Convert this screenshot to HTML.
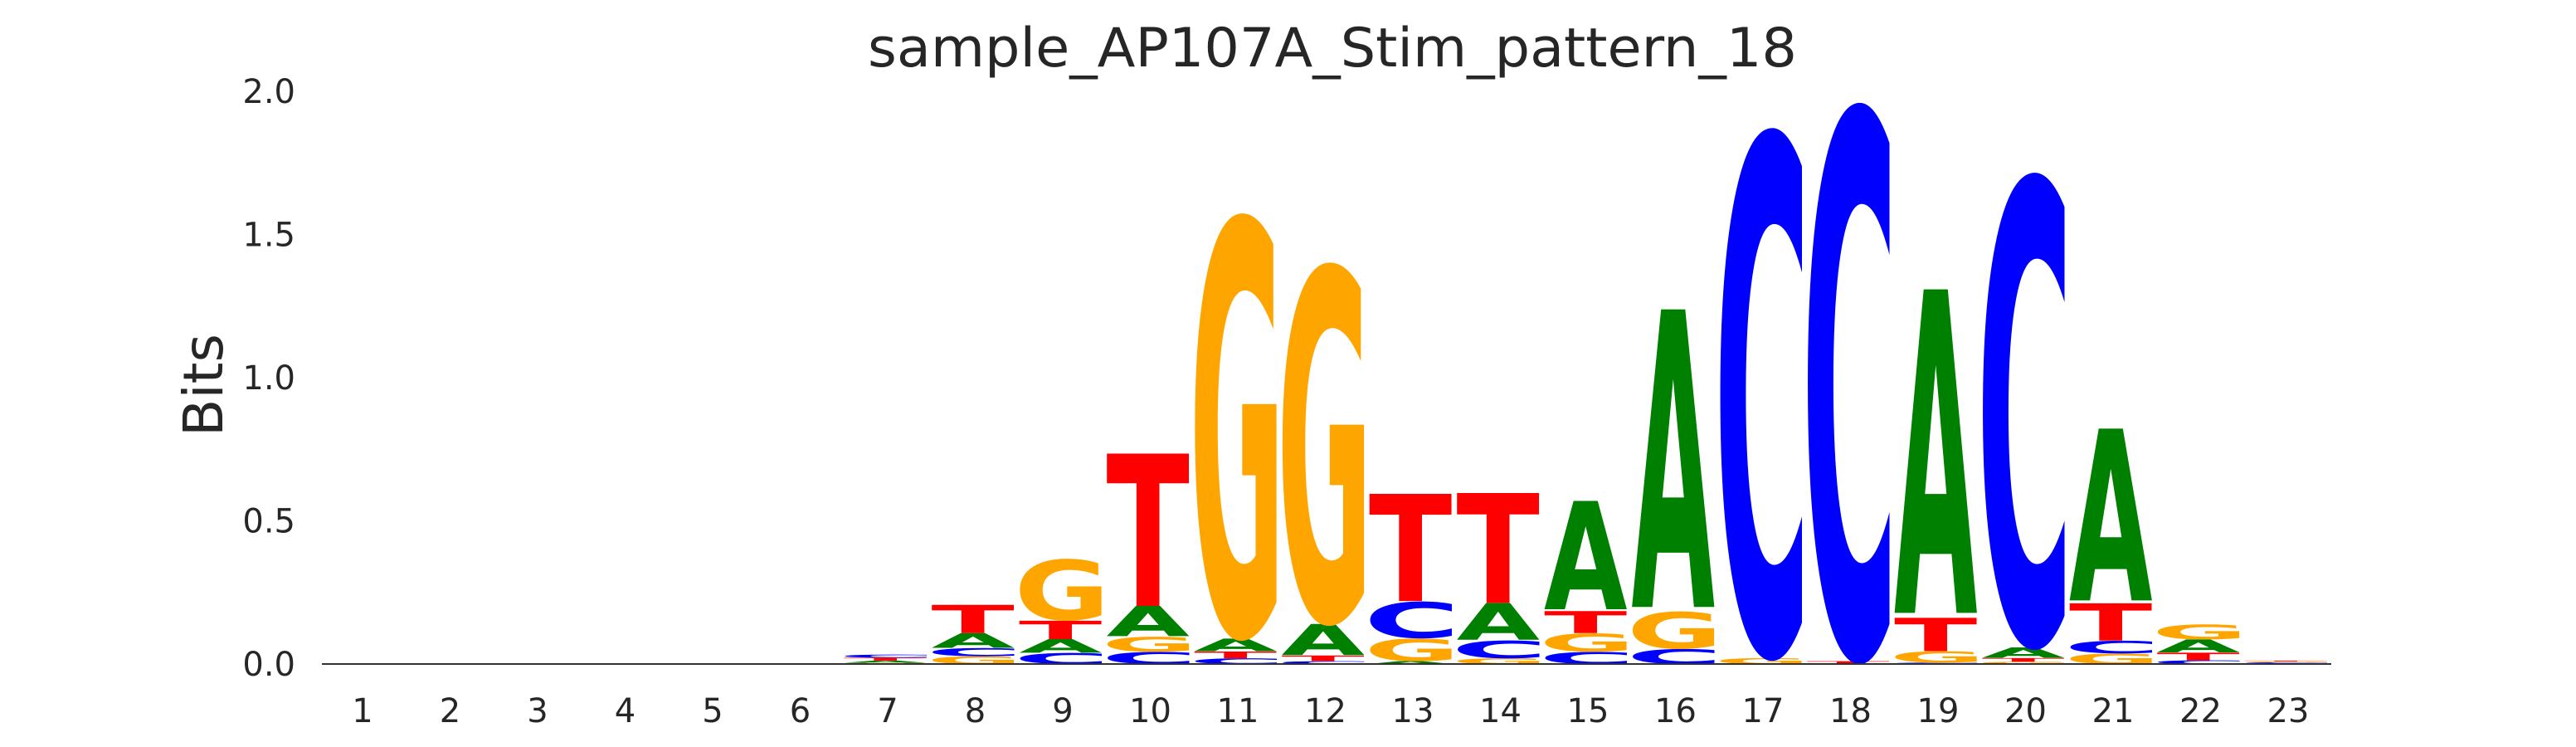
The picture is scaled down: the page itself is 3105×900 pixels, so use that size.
<!DOCTYPE html>
<html><head><meta charset="utf-8"><style>
html,body{margin:0;padding:0;background:#fff;width:3105px;height:900px;overflow:hidden;}
svg{display:block;}
text{font-family:"DejaVu Sans","Liberation Sans",sans-serif;fill:#262626;}
</style></head><body>
<svg id="chart" width="3105" height="900" viewBox="0 0 3105 900" xmlns="http://www.w3.org/2000/svg">
<text x="1606" y="80" font-size="65" text-anchor="middle" textLength="1120" lengthAdjust="spacingAndGlyphs">sample_AP107A_Stim_pattern_18</text>
<text transform="translate(268,464) rotate(-90)" font-size="66" text-anchor="middle">Bits</text>
<g id="yticks"></g>
<g id="xticks"></g>
<g id="letters"></g>
<line x1="388" y1="800" x2="2810" y2="800" stroke="#333" stroke-width="2"/>
</svg>
<script>
const positions = [1,2,3,4,5,6,7,8,9,10,11,12,13,14,15,16,17,18,19,20,21,22,23];
const bitsA = [0,0,0,0,0,0,0.008,0.052,0.048,0.107,0.045,0.11,0.01,0.13,0.384,1.055,0,0,1.147,0.037,0.609,0.046,0.003];
const bitsC = [0,0,0,0,0,0.0005,0.011,0.029,0.039,0.043,0.02,0.01,0.13,0.063,0.043,0.053,1.87,1.97,0.005,1.675,0.045,0.013,0.003];
const bitsG = [0,0,0,0,0,0.001,0.004,0.027,0.218,0.053,1.5,1.275,0.08,0.02,0.065,0.132,0.021,0,0.04,0.008,0.037,0.053,0.003];
const bitsT = [0,0,0,0,0,0.0005,0.01,0.10,0.065,0.54,0.024,0.02,0.38,0.39,0.078,0,0,0.01,0.118,0.013,0.132,0.027,0.003];
const yTickValues = [0,0.5,1.0,1.5,2.0];
const yTickLabels = ["0.0","0.5","1.0","1.5","2.0"];

const NS = "http://www.w3.org/2000/svg";
const y0 = 800, pxPerBit = 345;
function yScale(v){ return y0 - v*pxPerBit; }
function xScale(p){ return 2758 - (23-p)*105.5; }
const colW = 100;
const colors = {A:"#008000",C:"#0000ff",G:"#ffa500",T:"#ff0000"};
const series = {A:bitsA,C:bitsC,G:bitsG,T:bitsT};

const yt = document.getElementById('yticks');
yTickValues.forEach((v,i)=>{
  const t = document.createElementNS(NS,'text');
  
  
  t.setAttribute('x',356); t.setAttribute('y',yScale(v)+14);
  t.setAttribute('font-size','40'); t.setAttribute('text-anchor','end');
  t.textContent = yTickLabels[i];
  yt.appendChild(t);
});
const xt = document.getElementById('xticks');
positions.forEach(p=>{
  const t = document.createElementNS(NS,'text');
  
  
  t.setAttribute('x',xScale(p)); t.setAttribute('y',870);
  t.setAttribute('font-size','40'); t.setAttribute('text-anchor','middle');
  t.textContent = String(p);
  xt.appendChild(t);
});

const cv = document.createElement('canvas').getContext('2d');
cv.font = "bold 100px 'DejaVu Sans', sans-serif";
const metrics = {};
["A","C","G","T"].forEach(ch=>{
  const m = cv.measureText(ch);
  let left = -m.actualBoundingBoxLeft, right = m.actualBoundingBoxRight;
  let top = -m.actualBoundingBoxAscent, bottom = m.actualBoundingBoxDescent;
  if(!(right-left>1) || !(bottom-top>1)){ left=3; right=75; top=-73; bottom=1; }
  metrics[ch] = {left,right,top,bottom};
});

const lg = document.getElementById('letters');
positions.forEach((p,i)=>{
  const stack = ["A","C","G","T"].map(ch=>({ch,v:series[ch][i]})).filter(d=>d.v>0).sort((a,b)=>a.v-b.v);
  let cum = 0;
  stack.forEach(d=>{
    const yb = yScale(cum), ytop = yScale(cum+d.v);
    cum += d.v;
    const bh = yb - ytop;
    if(bh <= 0.05) return;
    const bx = xScale(p) - colW/2 - 3;
    const m = metrics[d.ch];
    const sx = colW/(m.right-m.left), sy = bh/(m.bottom-m.top);
    const t = document.createElementNS(NS,'text');
    
    
    t.setAttribute('font-size','100');
    t.setAttribute('font-weight','bold');
    t.setAttribute('style','fill:'+colors[d.ch]);
    t.setAttribute('transform','translate('+(bx - m.left*sx)+','+(ytop - m.top*sy)+') scale('+sx+','+sy+')');
    t.textContent = d.ch;
    lg.appendChild(t);
  });
});
</script>
</body></html>
